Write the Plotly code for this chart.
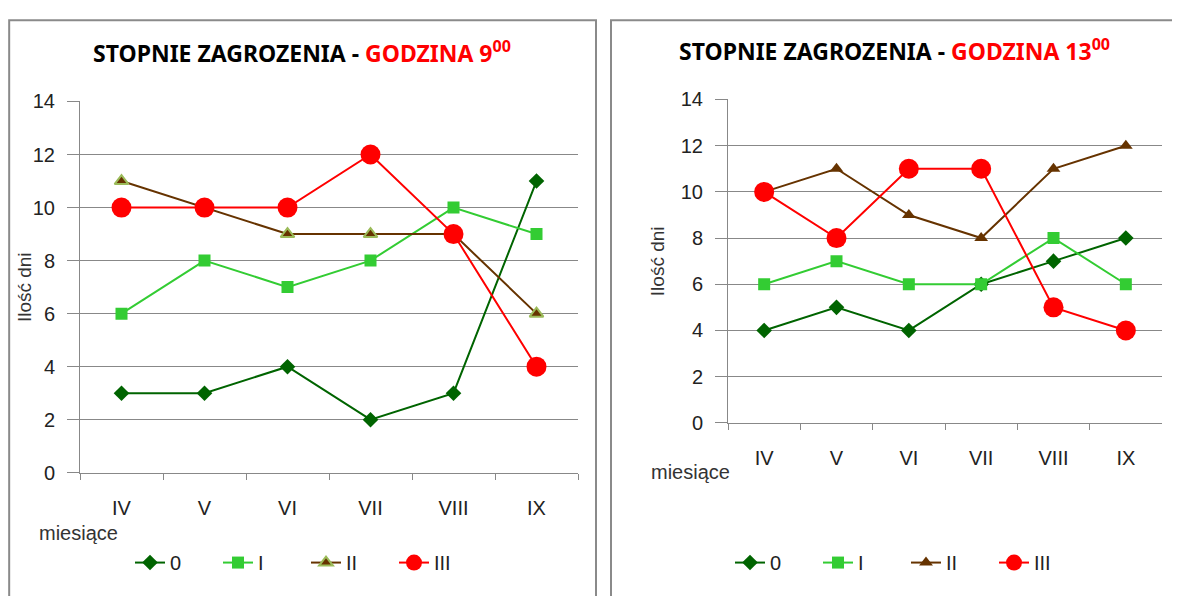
import plotly.graph_objects as go

W, H = 1180, 596
months = ["IV", "V", "VI", "VII", "VIII", "IX"]
series_names = ["0", "I", "II", "III"]

# Godzina 9:00
h9_s0 = [3, 3, 4, 2, 3, 11]
h9_s1 = [6, 8, 7, 8, 10, 9]
h9_s2 = [11, 10, 9, 9, 9, 6]
h9_s3 = [10, 10, 10, 12, 9, 4]

# Godzina 13:00
h13_s0 = [4, 5, 4, 6, 7, 8]
h13_s1 = [6, 7, 6, 6, 8, 6]
h13_s2 = [10, 11, 9, 8, 11, 12]
h13_s3 = [10, 8, 11, 11, 5, 4]

y_ticks = [0, 2, 4, 6, 8, 10, 12, 14]

fig = go.Figure()

# screen-pixel -> paper helpers (calibrated to the rendering)
def px_x(s):
    return (s - 8) / W

def px_y(s):
    p = (s - 17.35) / 0.965
    return 1 - p / H

styles = [
    dict(color="#006400", symbol="diamond", size=12),
    dict(color="#33CC33", symbol="square", size=12),
    dict(color="#663300", symbol="triangle-up", size=12),
    dict(color="#FF0000", symbol="circle", size=20),
]

def add_panel(data, xa, ya, legend, tri_outline):
    for i, (name, vals) in enumerate(zip(series_names, data)):
        st = styles[i]
        mline = dict(width=0)
        if i == 2 and tri_outline:
            mline = dict(width=2, color="#9BBB59")
        fig.add_trace(go.Scatter(
            x=months, y=vals, name=name, mode="lines+markers",
            xaxis=xa, yaxis=ya, legend=legend,
            line=dict(color=st["color"], width=2),
            marker=dict(symbol=st["symbol"], size=st["size"], color=st["color"], line=mline),
        ))

add_panel([h9_s0, h9_s1, h9_s2, h9_s3], "x", "y", "legend", True)
add_panel([h13_s0, h13_s1, h13_s2, h13_s3], "x2", "y2", "legend2", False)

tickfont = dict(family="Liberation Sans, Arial", size=20, color="#222")
xcommon = dict(type="category", range=[-0.5, 5.5], showgrid=False, showline=True,
               linecolor="#888", linewidth=1, ticks="outside", tickson="boundaries",
               ticklen=6, tickcolor="#888", tickfont=tickfont, zeroline=False,
               fixedrange=True, ticklabelstandoff=17)
ycommon = dict(range=[0, 14], tickvals=y_ticks, showgrid=True, gridcolor="#888", gridwidth=1,
               showline=True, linecolor="#888", linewidth=1, ticks="outside", ticklen=12,
               tickcolor="#888", tickfont=tickfont, zeroline=False, fixedrange=True,
               ticklabelstandoff=8)

legfont = dict(family="Liberation Sans, Arial", size=20, color="#222")
fig.update_layout(
    width=W, height=H, autosize=False, margin=dict(l=0, r=0, t=0, b=0),
    paper_bgcolor="white", plot_bgcolor="white",
    xaxis=dict(domain=[px_x(80), px_x(578)], anchor="y", **xcommon),
    yaxis=dict(domain=[px_y(472), px_y(100)], anchor="x", **ycommon),
    xaxis2=dict(domain=[px_x(728), px_x(1162)], anchor="y2", **xcommon),
    yaxis2=dict(domain=[px_y(422), px_y(98)], anchor="x2", **ycommon),
    legend=dict(orientation="h", x=px_x(130), xanchor="left", y=px_y(562), yanchor="middle",
                font=legfont, itemwidth=30, entrywidth=43, bgcolor="rgba(0,0,0,0)"),
    legend2=dict(orientation="h", x=px_x(730), xanchor="left", y=px_y(562), yanchor="middle",
                 font=legfont, itemwidth=30, entrywidth=43, bgcolor="rgba(0,0,0,0)"),
    showlegend=True,
)

# Panel borders
fig.add_shape(type="rect", xref="paper", yref="paper", x0=0.001, x1=px_x(596),
              y0=-0.05, y1=0.998, line=dict(color="#8a8a8a", width=2))
fig.add_shape(type="rect", xref="paper", yref="paper", x0=px_x(611), x1=1.05,
              y0=-0.05, y1=0.998, line=dict(color="#8a8a8a", width=2))

title_font = dict(family="Noto Sans, Open Sans", size=23, color="black")
fig.add_annotation(xref="paper", yref="paper", x=px_x(302), y=px_y(50), showarrow=False,
                   xanchor="center", yanchor="middle", font=title_font,
                   text="<b>STOPNIE ZAGROZENIA - <span style='color:#FF0000'>GODZINA 9<sup>00</sup></span></b>")
fig.add_annotation(xref="paper", yref="paper", x=px_x(894), y=px_y(48), showarrow=False,
                   xanchor="center", yanchor="middle", font=title_font,
                   text="<b>STOPNIE ZAGROZENIA - <span style='color:#FF0000'>GODZINA 13<sup>00</sup></span></b>")

ytitle_font = dict(family="Liberation Sans, Arial", size=19, color="#333")
fig.add_annotation(xref="paper", yref="paper", x=px_x(24), y=px_y(286), showarrow=False,
                   xanchor="center", yanchor="middle", textangle=-90, font=ytitle_font,
                   text="Ilość dni")
fig.add_annotation(xref="paper", yref="paper", x=px_x(657), y=px_y(260), showarrow=False,
                   xanchor="center", yanchor="middle", textangle=-90, font=ytitle_font,
                   text="Ilość dni")

lab_font = dict(family="Liberation Sans, Arial", size=20, color="#333")
fig.add_annotation(xref="paper", yref="paper", x=px_x(78), y=px_y(532), showarrow=False,
                   xanchor="center", yanchor="middle", font=lab_font, text="miesiące")
fig.add_annotation(xref="paper", yref="paper", x=px_x(690), y=px_y(471), showarrow=False,
                   xanchor="center", yanchor="middle", font=lab_font, text="miesiące")

fig.write_html("out.html")
